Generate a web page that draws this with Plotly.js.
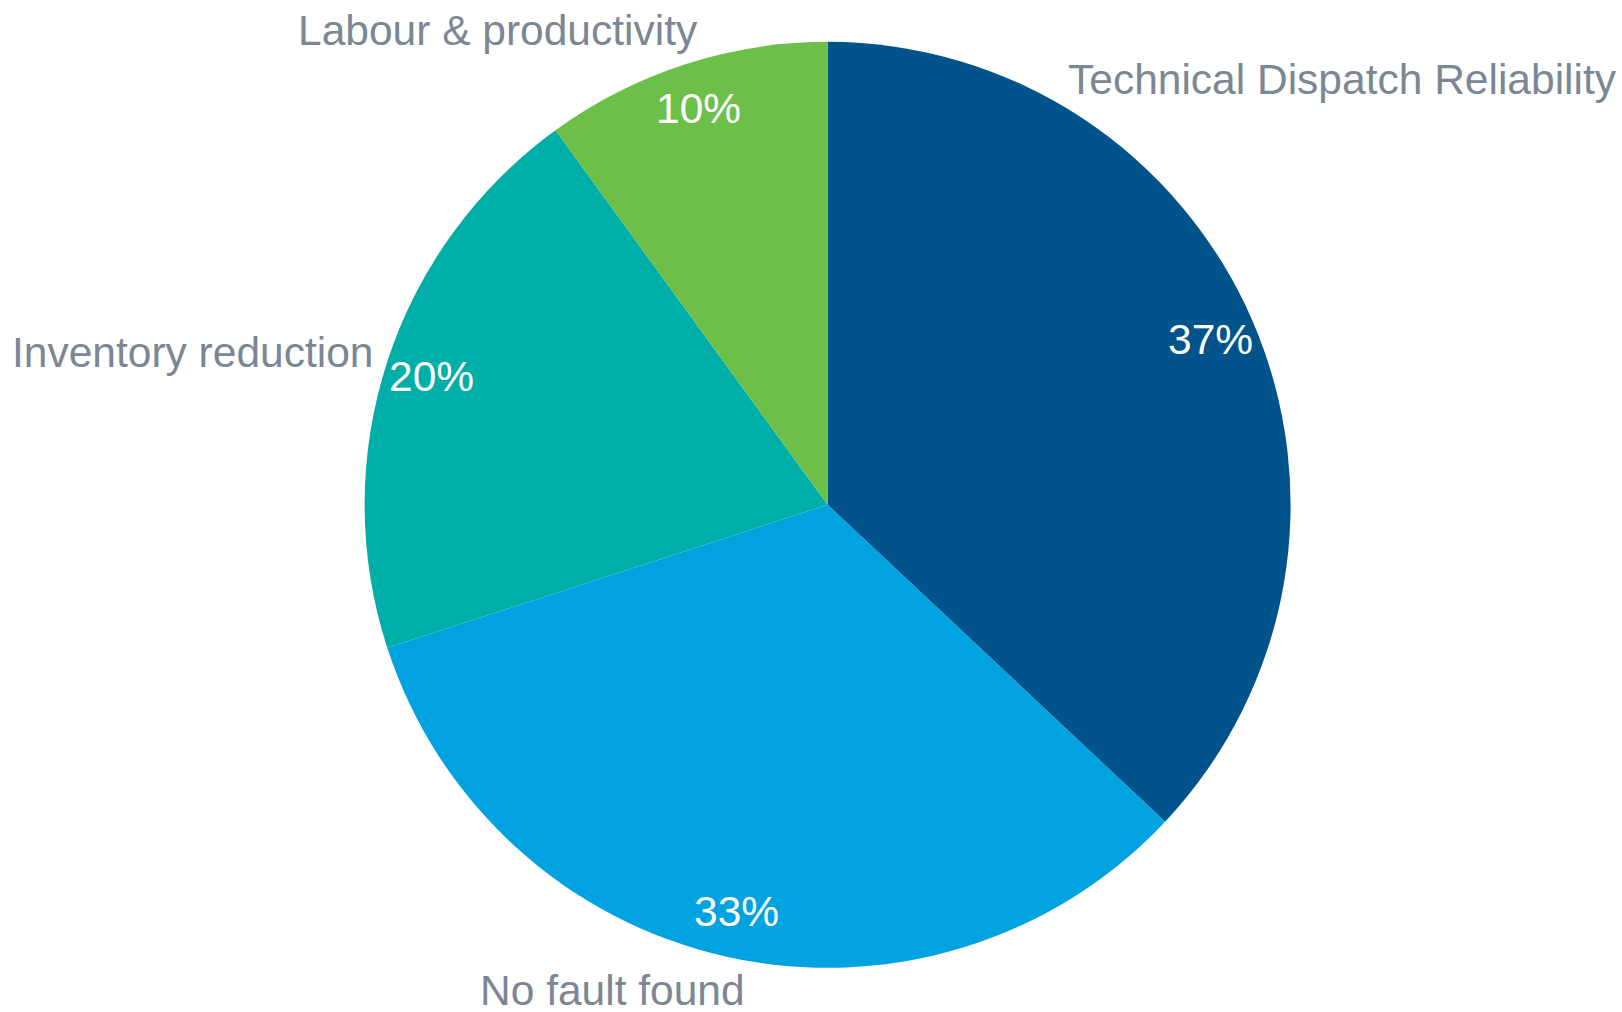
<!DOCTYPE html>
<html>
<head>
<meta charset="utf-8">
<script src="https://cdn.plot.ly/plotly-3.0.1.min.js"></script>
<style>html,body{margin:0;padding:0;background:#fff;}#chart{width:1622px;height:1012px;}</style>
</head>
<body>
<div id="chart"></div>
<script>
var categories = ["Technical Dispatch Reliability", "No fault found", "Inventory reduction", "Labour & productivity"];
var values = [37, 33, 20, 10];
var colors = ["#00548b", "#00a3e0", "#00aea8", "#6cc04a"];

var W = 1622, H = 1012;
var cx = 827.6, cy = 504.8, R = 463;
var labelColor = "#7b8794";
var fontFamily = "Liberation Sans, Arial, sans-serif";
var fs = 42.5;

var trace = {
  type: "pie",
  labels: categories,
  values: values,
  sort: false,
  direction: "clockwise",
  rotation: 0,
  textinfo: "none",
  hoverinfo: "label+percent",
  marker: {colors: colors, line: {width: 0}},
  domain: {x: [(cx - R) / W, (cx + R) / W], y: [(H - cy - R) / H, (H - cy + R) / H]},
  showlegend: false
};

var total = values.reduce(function(a, b) { return a + b; }, 0);
var annotations = [];
var cum = 0;
var k = 0.9;
values.forEach(function(v) {
  var th = 2 * Math.PI * (cum + v / 2) / total;
  var px = cx + k * R * Math.sin(th);
  var py = cy - k * R * Math.cos(th);
  annotations.push({
    xref: "paper", yref: "paper", x: px / W, y: 1 - py / H,
    xanchor: "center", yanchor: "middle", showarrow: false,
    text: Math.round(v / total * 100) + "%",
    font: {family: fontFamily, size: fs, color: "#ffffff"}
  });
  cum += v;
});

var outside = [
  {text: categories[0], x: 1342, y: 79},
  {text: categories[1], x: 612, y: 990},
  {text: categories[2], x: 192, y: 352},
  {text: categories[3], x: 498, y: 30}
];
outside.forEach(function(o) {
  annotations.push({
    xref: "paper", yref: "paper", x: o.x / W, y: 1 - o.y / H,
    xanchor: "center", yanchor: "middle", showarrow: false,
    text: o.text,
    font: {family: fontFamily, size: fs, color: labelColor}
  });
});

var layout = {
  width: W, height: H,
  margin: {l: 0, r: 0, t: 0, b: 0},
  paper_bgcolor: "#ffffff",
  plot_bgcolor: "#ffffff",
  showlegend: false,
  annotations: annotations
};

Plotly.newPlot("chart", [trace], layout, {displayModeBar: false, staticPlot: true});
</script>
</body>
</html>
